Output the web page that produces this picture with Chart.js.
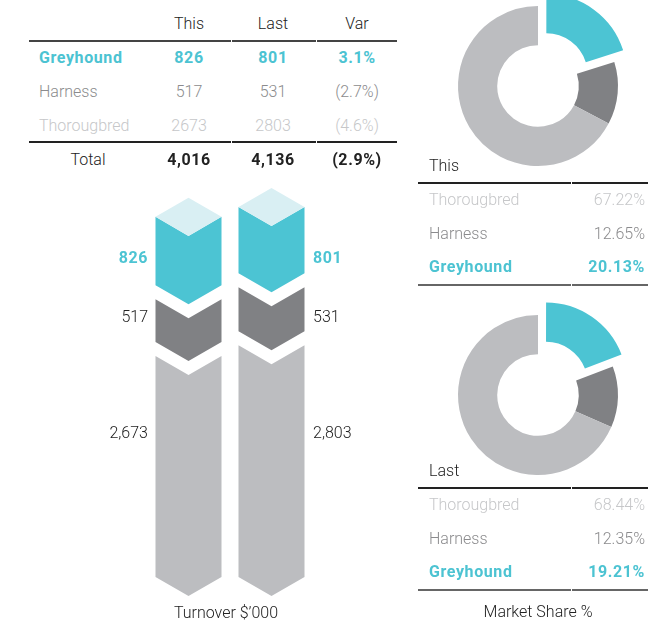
<!DOCTYPE html>
<html>
<head>
<meta charset="utf-8">
<script src="https://cdn.jsdelivr.net/npm/chart.js@4.4.1/dist/chart.umd.min.js"></script>
<style>
  html, body { margin: 0; padding: 0; background: #fff; }
  #page { position: relative; width: 648px; height: 622px; overflow: hidden;
          font-family: Roboto, "Open Sans", sans-serif; font-weight: 300; color: #222; }
  .t { position: absolute; white-space: nowrap; font-size: 16px; line-height: 20px; transform: translateY(-50%); }
  .rule { position: absolute; height: 1.5px; }
  canvas { position: absolute; }
</style>
</head>
<body>
<div id="page">
  <canvas id="bars" width="200" height="450" style="left:130px;top:160px"></canvas>
  <canvas id="donutThis" width="240" height="240" style="left:418px;top:-34px"></canvas>
  <canvas id="donutLast" width="240" height="240" style="left:418px;top:275px"></canvas>
</div>
<script>
// data
const categories = ["Greyhound", "Harness", "Thorougbred"];
const periods = ["This", "Last"];
const turnoverThis = [826, 517, 2673];
const turnoverLast = [801, 531, 2803];
const variance = ["3.1%", "(2.7%)", "(4.6%)"];
const totals = ["4,016", "4,136", "(2.9%)"];
const shareThis = [20.13, 12.65, 67.22];
const shareLast = [19.21, 12.35, 68.44];

const CYAN = "#4cc4d3";
const DARK = "#808184";
const LIGHT = "#bcbdc0";
const PALE = "#d9eff3";
const fill = [CYAN, DARK, LIGHT];
const textCol = ["#4cc3d2", "#8b8b8d", "#c6c7c9"];
const GAP = 14; // white band between stacked chevrons

const page = document.getElementById("page");

function put(text, x, y, align, style) {
  const d = document.createElement("div");
  d.className = "t";
  d.textContent = text;
  if (align === "center") {
    d.style.left = x + "px";
    d.style.transform = "translate(-50%,-50%)";
  } else if (align === "right") {
    d.style.right = (648 - x) + "px";
  } else {
    d.style.left = x + "px";
  }
  d.style.top = y + "px";
  Object.assign(d.style, style || {});
  page.appendChild(d);
}

function rule(x1, x2, y, color) {
  const d = document.createElement("div");
  d.className = "rule";
  d.style.left = x1 + "px";
  d.style.width = (x2 - x1) + "px";
  d.style.top = y + "px";
  d.style.background = color;
  page.appendChild(d);
}

const BOLD = { fontWeight: 700, letterSpacing: "0.6px" };

function rowStyle(i) {
  return i === 0 ? Object.assign({ color: textCol[i] }, BOLD) : { color: textCol[i] };
}

// turnover table, top left
put("This", 189, 24, "center");
put("Last", 273, 24, "center");
put("Var", 357, 24, "center");
rule(29, 231, 40, "#444"); rule(232, 316, 40, "#444"); rule(317, 397, 40, "#444");
categories.forEach((c, i) => {
  const y = 58 + i * 34;
  put(c, 39, y, "left", rowStyle(i));
  put(String(turnoverThis[i]), 189, y, "center", rowStyle(i));
  put(String(turnoverLast[i]), 273, y, "center", rowStyle(i));
  put(variance[i], 357, y, "center", rowStyle(i));
});
rule(29, 231, 141, "#222"); rule(232, 316, 141, "#222"); rule(317, 397, 141, "#222");
put("Total", 88, 160, "center");
put(totals[0], 189, 160, "center", BOLD);
put(totals[1], 273, 160, "center", BOLD);
put(totals[2], 357, 160, "center", BOLD);

// market share tables, right
function shareTable(title, shares, top) {
  put(title, 429, top, "left");
  rule(418, 571, top + 16, "#222"); rule(572, 648, top + 16, "#222");
  [2, 1, 0].forEach((i, k) => {
    const y = top + 34 + k * 33.5;
    put(categories[i], 429, y, "left", rowStyle(i));
    put(shares[i].toFixed(2) + "%", 645, y, "right", rowStyle(i));
  });
  rule(418, 571, top + 118, "#666"); rule(572, 648, top + 118, "#666");
}
shareTable(periods[0], shareThis, 166);
shareTable(periods[1], shareLast, 471);
put("Market Share %", 538, 612, "center");

// bar value labels
const labelY = [258, 317, 433];
categories.forEach((c, i) => {
  const st = i === 0 ? Object.assign({ color: CYAN }, BOLD) : {};
  put(turnoverThis[i].toLocaleString("en-US"), 148, labelY[i], "right", st);
  put(turnoverLast[i].toLocaleString("en-US"), 313, labelY[i], "left", st);
});
put("Turnover $\u2019000", 226, 613, "center");

// chevron bars: stacked bar chart, each segment drawn as a down-pointing chevron
const chevronPlugin = {
  id: "chevron",
  beforeDatasetDraw(chart, args) {
    const ctx = chart.ctx;
    const i = args.index;
    const ds = chart.data.datasets[i];
    const last = chart.data.datasets.length - 1;
    args.meta.data.forEach(bar => {
      const p = bar.getProps(["x", "y", "base", "width"], true);
      const half = p.width / 2;
      const h = half * Math.tan(Math.PI / 6);
      const lift = i * GAP;
      const top = p.y - lift;
      const bot = p.base - lift;
      ctx.save();
      ctx.fillStyle = ds.backgroundColor;
      ctx.beginPath();
      ctx.moveTo(p.x - half, top);
      ctx.lineTo(p.x, top + h);
      ctx.lineTo(p.x + half, top);
      ctx.lineTo(p.x + half, bot);
      ctx.lineTo(p.x, bot + h);
      ctx.lineTo(p.x - half, bot);
      ctx.closePath();
      ctx.fill();
      if (i === last) {
        ctx.fillStyle = PALE;
        ctx.beginPath();
        ctx.moveTo(p.x - half, top);
        ctx.lineTo(p.x, top - h);
        ctx.lineTo(p.x + half, top);
        ctx.lineTo(p.x, top + h);
        ctx.closePath();
        ctx.fill();
      }
      ctx.restore();
    });
    return false;
  }
};

// bottom of the stack first
const stackOrder = [2, 1, 0];
new Chart(document.getElementById("bars"), {
  type: "bar",
  data: {
    labels: periods,
    datasets: stackOrder.map(i => ({
      label: categories[i],
      data: [turnoverThis[i], turnoverLast[i]],
      backgroundColor: fill[i],
      barThickness: 66,
    })),
  },
  options: {
    responsive: false,
    animation: false,
    layout: { padding: { left: 17, right: 17, top: 20, bottom: 33 } },
    plugins: { legend: { display: false }, tooltip: { enabled: false } },
    scales: {
      x: { display: false, stacked: true },
      y: { display: false, stacked: true, min: 0, max: 4800 },
    },
  },
  plugins: [chevronPlugin],
});

// chart.js moves an offset arc by offset/4, so 56 pushes greyhound out ~14px
function donut(id, shares) {
  new Chart(document.getElementById(id), {
    type: "doughnut",
    data: {
      labels: categories,
      datasets: [{
        data: shares,
        backgroundColor: fill,
        borderWidth: 0,
        offset: [56, 0, 0],
        hoverOffset: 0,
        clip: false,
      }],
    },
    options: {
      responsive: false,
      animation: false,
      cutout: "51%",
      layout: { padding: 12 },
      plugins: { legend: { display: false }, tooltip: { enabled: false } },
    },
  });
}
donut("donutThis", shareThis);
donut("donutLast", shareLast);
</script>
</body>
</html>
